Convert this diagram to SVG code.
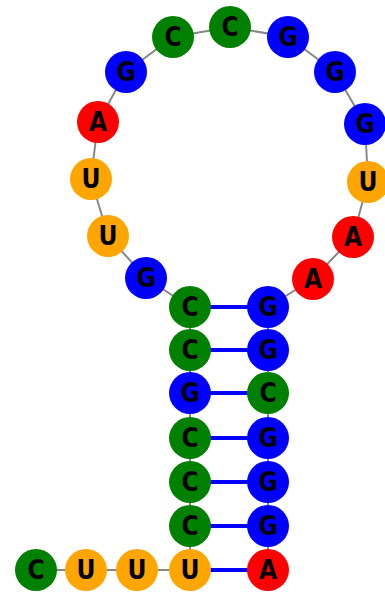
<svg xmlns="http://www.w3.org/2000/svg" width="385" height="592" viewBox="0 0 385 592">
<style>
.bb{stroke:#888;stroke-width:2;fill:none}
.pr{stroke:#0000ff;stroke-width:4}
.A{fill:#ff0000}.C{fill:#008000}.G{fill:#0000ff}.U{fill:#ffa500}
text{font-family:"DejaVu Sans Condensed","DejaVu Sans",sans-serif;font-stretch:condensed;font-weight:bold;font-size:26px;fill:#000;text-anchor:middle;dominant-baseline:central}
</style>
<rect width="385" height="592" fill="#fff"/>
<g id="connectors">
<polyline class="bb" points="36,570 86,570 137,570 190,570 190,526 190,482 190,438 190,393 190,350 190,307 146,278 108,236 91,179 98,122 126,72 173,37 230,27 288,37 335,72 365,124 368,182 353,237 313,279 268,307 268,350 268,393 268,438 268,482 268,526 268,570"/>
<line class="pr" x1="190" y1="570" x2="268" y2="570"/>
<line class="pr" x1="190" y1="526" x2="268" y2="526"/>
<line class="pr" x1="190" y1="482" x2="268" y2="482"/>
<line class="pr" x1="190" y1="438" x2="268" y2="438"/>
<line class="pr" x1="190" y1="393" x2="268" y2="393"/>
<line class="pr" x1="190" y1="350" x2="268" y2="350"/>
<line class="pr" x1="190" y1="307" x2="268" y2="307"/>
</g>
<g id="n1"><circle class="C" cx="36" cy="570" r="21"/><text x="36" y="570">C</text></g>
<g id="n2"><circle class="U" cx="86" cy="570" r="21"/><text x="86" y="570">U</text></g>
<g id="n3"><circle class="U" cx="137" cy="570" r="21"/><text x="137" y="570">U</text></g>
<g id="n4"><circle class="U" cx="190" cy="570" r="21"/><text x="190" y="570">U</text></g>
<g id="n5"><circle class="C" cx="190" cy="526" r="21"/><text x="190" y="526">C</text></g>
<g id="n6"><circle class="C" cx="190" cy="482" r="21"/><text x="190" y="482">C</text></g>
<g id="n7"><circle class="C" cx="190" cy="438" r="21"/><text x="190" y="438">C</text></g>
<g id="n8"><circle class="G" cx="190" cy="393" r="21"/><text x="190" y="393">G</text></g>
<g id="n9"><circle class="C" cx="190" cy="350" r="21"/><text x="190" y="350">C</text></g>
<g id="n10"><circle class="C" cx="190" cy="307" r="21"/><text x="190" y="307">C</text></g>
<g id="n11"><circle class="G" cx="146" cy="278" r="21"/><text x="146" y="278">G</text></g>
<g id="n12"><circle class="U" cx="108" cy="236" r="21"/><text x="108" y="236">U</text></g>
<g id="n13"><circle class="U" cx="91" cy="179" r="21"/><text x="91" y="179">U</text></g>
<g id="n14"><circle class="A" cx="98" cy="122" r="21"/><text x="98" y="122">A</text></g>
<g id="n15"><circle class="G" cx="126" cy="72" r="21"/><text x="126" y="72">G</text></g>
<g id="n16"><circle class="C" cx="173" cy="37" r="21"/><text x="173" y="37">C</text></g>
<g id="n17"><circle class="C" cx="230" cy="27" r="21"/><text x="230" y="27">C</text></g>
<g id="n18"><circle class="G" cx="288" cy="37" r="21"/><text x="288" y="37">G</text></g>
<g id="n19"><circle class="G" cx="335" cy="72" r="21"/><text x="335" y="72">G</text></g>
<g id="n20"><circle class="G" cx="365" cy="124" r="21"/><text x="365" y="124">G</text></g>
<g id="n21"><circle class="U" cx="368" cy="182" r="21"/><text x="368" y="182">U</text></g>
<g id="n22"><circle class="A" cx="353" cy="237" r="21"/><text x="353" y="237">A</text></g>
<g id="n23"><circle class="A" cx="313" cy="279" r="21"/><text x="313" y="279">A</text></g>
<g id="n24"><circle class="G" cx="268" cy="307" r="21"/><text x="268" y="307">G</text></g>
<g id="n25"><circle class="G" cx="268" cy="350" r="21"/><text x="268" y="350">G</text></g>
<g id="n26"><circle class="C" cx="268" cy="393" r="21"/><text x="268" y="393">C</text></g>
<g id="n27"><circle class="G" cx="268" cy="438" r="21"/><text x="268" y="438">G</text></g>
<g id="n28"><circle class="G" cx="268" cy="482" r="21"/><text x="268" y="482">G</text></g>
<g id="n29"><circle class="G" cx="268" cy="526" r="21"/><text x="268" y="526">G</text></g>
<g id="n30"><circle class="A" cx="268" cy="570" r="21"/><text x="268" y="570">A</text></g>
</svg>
